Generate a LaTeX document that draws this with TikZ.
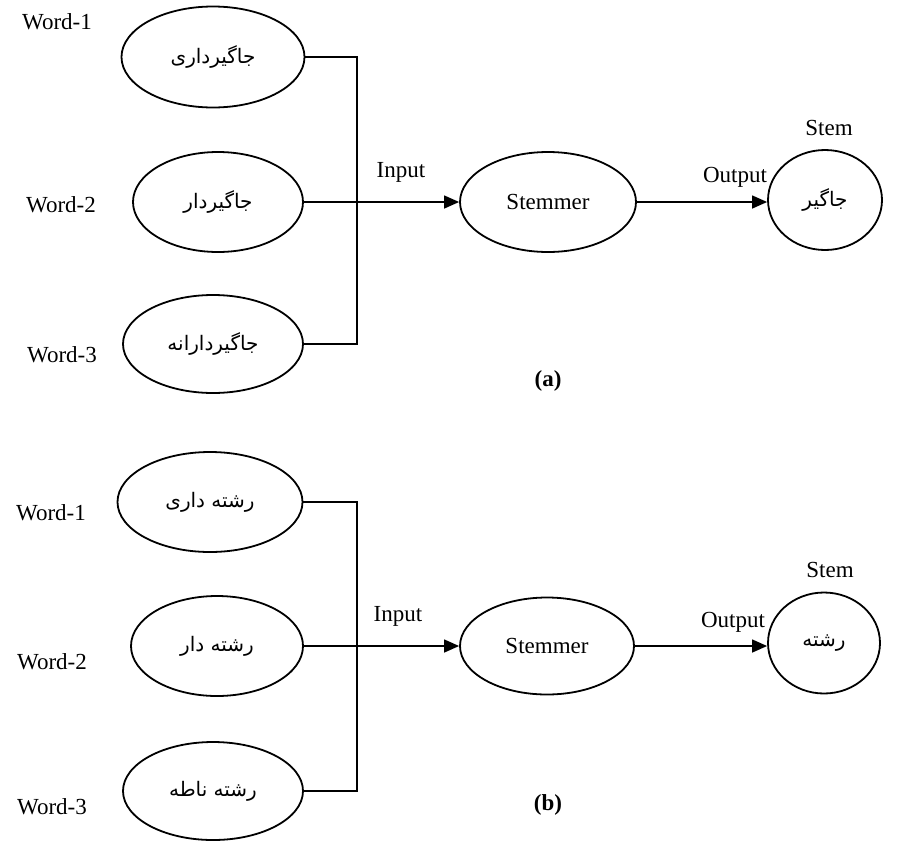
\documentclass[tikz,border=0pt]{standalone}
\usepackage{fontspec}
\setmainfont{Liberation Serif}
\newfontfamily\arabicfont[Script=Arabic]{DejaVu Sans}
\TeXXeTstate=1
\usetikzlibrary{shapes.geometric,arrows.meta}

\begin{document}
\begin{tikzpicture}[x=1pt,y=-1pt,font=\fontsize{23}{27}\selectfont,
 oval/.style n args={2}{ellipse,draw,line width=1.8pt,minimum width=#1pt,minimum height=#2pt,inner sep=0pt},
 fa/.style={font=\fontsize{20}{24}\selectfont\arabicfont},
 conn/.style={line width=1.3pt},
 arr/.style={conn,-{Triangle[length=15pt,width=13pt]}}]
\useasboundingbox (0,0) rectangle (920,844);
% (a)
\node[oval={183}{101},fa] (wa1) at (213,57) {\beginR جاگیرداری\endR};
\node[oval={170}{100},fa] (wa2) at (218,202) {\beginR جاگیردار\endR};
\node[oval={180}{98},fa] (wa3) at (213,344) {\beginR جاگیردارانه\endR};
\node[oval={176}{100}] (stma) at (548,202) {Stemmer};
\node[oval={114}{100},fa] (stema) at (825,200) {\beginR جاگیر\endR};
\foreach \n/\y/\x in {1/22/57,2/205/61,3/355/62} {
   \node (la\n) at (\x,\y) {Word-\n};
}
\node (ina) at (401,172) {Input};
\node (outa) at (735,177) {Output};
\node (sa) at (829,128) {Stem};
\node[font=\fontsize{23}{27}\selectfont\bfseries] (capa) at (548,381) {(a)};
\coordinate (ja) at (357,202);
\draw[conn] (wa1.east) -| (ja) |- (wa3.east);
\draw[arr] (wa2.east) -- (stma.west);
\draw[arr] (stma.east) -- (stma.east -| stema.west);
% (b)
\node[oval={185}{100},fa] (wb1) at (210,502) {\beginR رشته داری\endR};
\node[oval={172}{100},fa] (wb2) at (217,646) {\beginR رشته دار\endR};
\node[oval={180}{98},fa] (wb3) at (213,791) {\beginR رشته ناطه\endR};
\node[oval={174}{97}] (stmb) at (547,646) {Stemmer};
\node[oval={112}{101},fa] (stemb) at (824,643) {\beginR رشته\endR};
\foreach \n/\y/\x in {1/513/51,2/662/52,3/807/52} {
   \node (lb\n) at (\x,\y) {Word-\n};
}
\node (inb) at (398,616) {Input};
\node (outb) at (733,622) {Output};
\node (sb) at (830,570) {Stem};
\node[font=\fontsize{23}{27}\selectfont\bfseries] (capb) at (548,805) {(b)};
\coordinate (jb) at (357,646);
\draw[conn] (wb1.east) -| (jb) |- (wb3.east);
\draw[arr] (wb2.east) -- (stmb.west);
\draw[arr] (stmb.east) -- (stmb.east -| stemb.west);
\end{tikzpicture}
\end{document}
